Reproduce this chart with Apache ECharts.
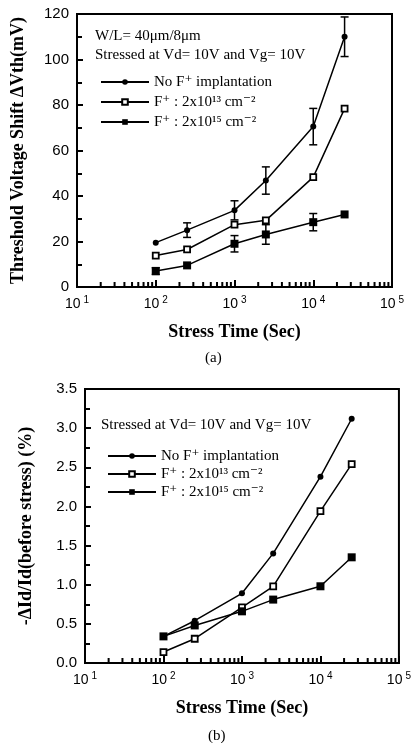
<!DOCTYPE html>
<html>
<head>
<meta charset="utf-8">
<script src="https://cdn.jsdelivr.net/npm/echarts@6/dist/echarts.min.js"></script>
<style>
  html, body { margin: 0; padding: 0; background: #fff; }
  #main { width: 414px; height: 743px; }
</style>
</head>
<body>
<div id="main"></div>
<script>
// stress times (sec)
var times = [100, 250, 1000, 2500, 10000, 25000];

// (a) threshold voltage shift (mV)
var vthNoF = [19.5, 25, 33.7, 46.8, 70.5, 110];
var vthNoFErr = [0, 3.2, 4.2, 6, 8, 8.7];
var vthF13 = [13.8, 16.5, 27.4, 29.3, 48.3, 78.4];
var vthF15 = [7, 9.5, 19, 23.1, 28.5, 31.9];
var vthF15Err = [1.5, 0, 3.6, 4.3, 3.8, 0];

// (b) -dId/Id (%)
var idNoF = [0.34, 0.54, 0.89, 1.40, 2.38, 3.12];
var idF13 = [0.14, 0.31, 0.71, 0.98, 1.94, 2.54];
var idF15 = [0.34, 0.48, 0.66, 0.81, 0.98, 1.35];

var names = ['No F\u207a implantation', 'F\u207a : 2x10\u00b9\u00b3 cm\u207b\u00b2', 'F\u207a : 2x10\u00b9\u2075 cm\u207b\u00b2'];
var xTickExp = ['1', '2', '3', '4', '5'];

var serif = '"Liberation Serif", "DejaVu Serif", serif';
var sans = '"Liberation Sans", "DejaVu Sans", sans-serif';

function pairs(xs, ys) {
    var out = [];
    for (var i = 0; i < xs.length; i++) out.push([xs[i], ys[i]]);
    return out;
}
function errPairs(xs, ys, es) {
    var out = [];
    for (var i = 0; i < xs.length; i++) {
        if (es[i] > 0) out.push([xs[i], ys[i], es[i]]);
    }
    return out;
}
// minor log ticks 2..9 x 10^n
var minorTicks = [];
for (var n = 1; n < 5; n++) {
    for (var k = 2; k < 10; k++) minorTicks.push([k * Math.pow(10, n), 0]);
}

var myChart = echarts.init(document.getElementById('main'));

function xAxisFor(gridIndex) {
    return {
        gridIndex: gridIndex,
        type: 'log',
        logBase: 10,
        min: 10,
        max: 100000,
        name: 'Stress Time (Sec)',
        nameLocation: 'middle',
        nameGap: 36,
        nameTextStyle: { fontFamily: serif, fontWeight: 'bold', fontSize: 18, color: '#000' },
        axisLine: { lineStyle: { color: '#000', width: 2 } },
        axisTick: { inside: true, length: 7, lineStyle: { color: '#000', width: 2 } },
        splitLine: { show: false },
        axisLabel: {
            margin: 8,
            formatter: function (v) {
                var e = Math.round(Math.log10(v)) - 1;
                return '{b|10}{s|' + xTickExp[e] + '}';
            },
            rich: {
                b: { fontFamily: sans, fontSize: 14, color: '#000' },
                s: { fontFamily: sans, fontSize: 10, color: '#000', verticalAlign: 'top', padding: [0, 0, 8, 3] }
            }
        }
    };
}

function yAxisFor(gridIndex, name, max, interval, gap, fmt) {
    return {
        gridIndex: gridIndex,
        type: 'value',
        min: 0,
        max: max,
        interval: interval,
        name: name,
        nameLocation: 'middle',
        nameGap: gap,
        nameTextStyle: { fontFamily: serif, fontWeight: 'bold', fontSize: 18, color: '#000' },
        axisLine: { show: true, lineStyle: { color: '#000', width: 2 } },
        axisTick: { show: true, inside: true, length: 6, lineStyle: { color: '#000', width: 2 } },
        minorTick: { show: true, splitNumber: 2, length: 5, lineStyle: { color: '#000', width: 2 } },
        splitLine: { show: false },
        axisLabel: { margin: 8, fontFamily: sans, fontSize: 15, color: '#000', formatter: fmt }
    };
}

function lineSeries(name, xIdx, data, symbol, size, fill) {
    return {
        name: name,
        type: 'line',
        xAxisIndex: xIdx,
        yAxisIndex: xIdx,
        data: data,
        symbol: symbol,
        symbolSize: size,
        showAllSymbol: true,
        lineStyle: { color: '#000', width: 1.5 },
        itemStyle: { color: fill, borderColor: '#000', borderWidth: fill === '#fff' ? 1.8 : 0 },
        z: 3
    };
}

function errorSeries(xIdx, data) {
    return {
        type: 'custom',
        xAxisIndex: xIdx,
        yAxisIndex: xIdx,
        data: data,
        encode: { x: 0, y: 1 },
        z: 2,
        renderItem: function (params, api) {
            var x = api.value(0), y = api.value(1), e = api.value(2);
            var hi = api.coord([x, y + e]);
            var lo = api.coord([x, y - e]);
            var w = 4;
            var st = { stroke: '#000', lineWidth: 1.5 };
            return {
                type: 'group',
                children: [
                    { type: 'line', shape: { x1: hi[0], y1: hi[1], x2: lo[0], y2: lo[1] }, style: st },
                    { type: 'line', shape: { x1: hi[0] - w, y1: hi[1], x2: hi[0] + w, y2: hi[1] }, style: st },
                    { type: 'line', shape: { x1: lo[0] - w, y1: lo[1], x2: lo[0] + w, y2: lo[1] }, style: st }
                ]
            };
        }
    };
}

function minorTickSeries(xIdx) {
    return {
        type: 'custom',
        xAxisIndex: xIdx,
        yAxisIndex: xIdx,
        data: minorTicks,
        encode: { x: 0, y: 1 },
        silent: true,
        clip: false,
        z: 10,
        renderItem: function (params, api) {
            var p = api.coord([api.value(0), 0]);
            return {
                type: 'line',
                shape: { x1: p[0], y1: p[1], x2: p[0], y2: p[1] - 5 },
                style: { stroke: '#000', lineWidth: 2 }
            };
        }
    };
}

var legendText = { fontFamily: serif, fontSize: 15, color: '#000', lineHeight: 16 };

var option = {
    animation: false,
    backgroundColor: '#fff',
    title: [
        { text: 'W/L= 40\u03bcm/8\u03bcm', left: 90, top: 24, textStyle: { fontFamily: serif, fontWeight: 'normal', fontSize: 15, color: '#000' } },
        { text: 'Stressed at Vd= 10V and Vg= 10V', left: 90, top: 43, textStyle: { fontFamily: serif, fontWeight: 'normal', fontSize: 15, color: '#000' } },
        { text: 'Stressed at Vd= 10V and Vg= 10V', left: 96, top: 413, textStyle: { fontFamily: serif, fontWeight: 'normal', fontSize: 15, color: '#000' } },
        { text: '(a)', left: 200, top: 346, textStyle: { fontFamily: serif, fontWeight: 'normal', fontSize: 15, color: '#000' } },
        { text: '(b)', left: 203, top: 724, textStyle: { fontFamily: serif, fontWeight: 'normal', fontSize: 15, color: '#000' } }
    ],
    legend: [
        {
            data: names, orient: 'vertical', left: 95, top: 69,
            itemWidth: 48, itemHeight: 7, itemGap: 4,
            textStyle: legendText, selectedMode: false
        },
        {
            data: names, orient: 'vertical', left: 102, top: 443,
            itemWidth: 48, itemHeight: 7, itemGap: 2,
            textStyle: legendText, selectedMode: false
        }
    ],
    grid: [
        { left: 77, top: 14, width: 315, height: 273, show: true, borderColor: '#000', borderWidth: 2, backgroundColor: 'transparent' },
        { left: 85, top: 389, width: 315, height: 274, show: true, borderColor: '#000', borderWidth: 2, backgroundColor: 'transparent' }
    ],
    xAxis: [xAxisFor(0), xAxisFor(1)],
    yAxis: [
        yAxisFor(0, 'Threshold Voltage Shift \u0394Vth(mV)', 120, 20, 50, null),
        yAxisFor(1, '-\u0394Id/Id(before stress) (%)', 3.5, 0.5, 50, function (v) { return v.toFixed(1); })
    ],
    series: [
        lineSeries(names[0], 0, pairs(times, vthNoF), 'circle', 6, '#000'),
        lineSeries(names[1], 0, pairs(times, vthF13), 'rect', 6, '#fff'),
        lineSeries(names[2], 0, pairs(times, vthF15), 'rect', 8, '#000'),
        errorSeries(0, errPairs(times, vthNoF, vthNoFErr)),
        errorSeries(0, errPairs(times, vthF15, vthF15Err)),
        minorTickSeries(0),
        lineSeries(names[0], 1, pairs(times, idNoF), 'circle', 6, '#000'),
        lineSeries(names[1], 1, pairs(times, idF13), 'rect', 6, '#fff'),
        lineSeries(names[2], 1, pairs(times, idF15), 'rect', 8, '#000'),
        minorTickSeries(1)
    ]
};

myChart.setOption(option);
</script>
</body>
</html>
